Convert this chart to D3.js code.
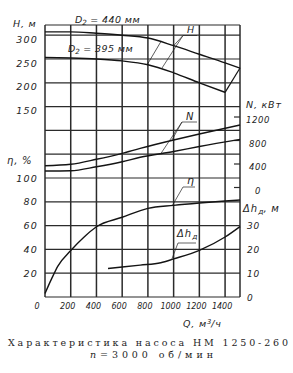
<!DOCTYPE html>
<html>
<head>
<meta charset="utf-8">
<script src="https://cdn.jsdelivr.net/npm/d3@7"></script>
<style>
body { margin: 0; background: #fff; }
svg { display: block; }
.lbl { font-family: "DejaVu Sans", sans-serif; font-style: italic; fill: #1e1e1e; }
.cap { font-family: "DejaVu Serif", "Liberation Serif", serif; fill: #1e1e1e; }
</style>
</head>
<body>
<script>
// ticks
var qTicks = [0, 200, 400, 600, 800, 1000, 1200, 1400];
var hTicks = [150, 200, 250, 300];
var etaTicks = [20, 40, 60, 80, 100];
var nTicks = [0, 400, 800, 1200];
var dhTicks = [0, 10, 20, 30];
var gridRows = [0, 20, 40, 60, 80, 100, 120, 140, 160, 180, 200, 220]; // on the eta scale

// head curves, two impeller diameters
var qH440 = [0, 200, 400, 600, 800, 1000, 1200, 1400, 1516];
var h440 = [307, 307, 304, 300, 294, 278, 260, 242, 231];
var qH395 = [0, 200, 400, 600, 800, 1000, 1200, 1400];
var h395 = [253, 252, 250, 246, 238, 221, 200, 180];

// power, kW
var qN = [0, 200, 400, 600, 740, 1000, 1200, 1516];
var n440 = [371, 395, 480, 582, 667, 809, 911, 1064];
var n395 = [281, 286, 354, 439, 514, 613, 698, 820];

// efficiency, %
var qEta = [0, 50, 100, 200, 300, 400, 600, 800, 1000, 1200, 1400, 1516];
var eta = [3, 15, 26, 39, 50, 59, 67, 74.5, 77, 79, 80.7, 81.5];

// NPSH, m
var qDh = [490, 600, 740, 900, 1000, 1200, 1400, 1516];
var dh = [12, 12.6, 13.4, 14.4, 16, 19.6, 25.2, 29.6];

// working zone edges: [Q on D2=395, Q on D2=440]
var zoneLeft = [795, 900];
var zoneRight = [1400, 1516];

var width = 293, height = 373;
var mLeft = 45, mRight = 240, mTop = 25, mBottom = 297;

var svg = d3.select("body").append("svg")
    .attr("width", width)
    .attr("height", height);

var x = d3.scaleLinear().domain([0, 1516]).range([mLeft, mRight]);
var yEta = d3.scaleLinear().domain([0, 100]).range([mBottom, 178]);
var yH = d3.scaleLinear().domain([150, 300]).range([yEta(160), yEta(220)]);
var yN = d3.scaleLinear().domain([0, 1200]).range([187.5, 117]);
var yDh = d3.scaleLinear().domain([0, 30]).range([mBottom, yEta(60)]);

// piecewise-linear lookup along a curve
function at(qs, vs, q) {
    return d3.scaleLinear().domain(qs).range(vs)(q);
}

// grid
var gridColor = "#2b2b2b";
var gridWidth = 1.2;

svg.selectAll(".vline").data(qTicks.concat([1516])).enter().append("line")
    .attr("class", "vline")
    .attr("x1", d => x(d)).attr("x2", d => x(d))
    .attr("y1", mTop).attr("y2", mBottom)
    .attr("stroke", gridColor).attr("stroke-width", 1.5);

svg.selectAll(".hline").data(gridRows).enter().append("line")
    .attr("class", "hline")
    .attr("x1", mLeft).attr("x2", mRight)
    .attr("y1", d => yEta(d)).attr("y2", d => yEta(d))
    .attr("stroke", gridColor).attr("stroke-width", gridWidth);

svg.append("line")
    .attr("x1", mLeft).attr("x2", mRight)
    .attr("y1", mTop).attr("y2", mTop)
    .attr("stroke", gridColor).attr("stroke-width", gridWidth);

// N ticks on right edge
svg.selectAll(".ntick").data(nTicks).enter().append("line")
    .attr("class", "ntick")
    .attr("x1", mRight - 6).attr("x2", mRight)
    .attr("y1", d => yN(d)).attr("y2", d => yN(d))
    .attr("stroke", gridColor).attr("stroke-width", gridWidth);

// curves
var curveStyle = { stroke: "#141414", width: 1.4 };
function drawCurve(qs, vs, yScale) {
    var line = d3.line()
        .x((d, i) => x(qs[i]))
        .y(d => yScale(d))
        .curve(d3.curveMonotoneX);
    svg.append("path")
        .datum(vs)
        .attr("d", line)
        .attr("fill", "none")
        .attr("stroke", curveStyle.stroke)
        .attr("stroke-width", curveStyle.width);
}

drawCurve(qH440, h440, yH);
drawCurve(qH395, h395, yH);
drawCurve(qN, n440, yN);
drawCurve(qN, n395, yN);
drawCurve(qEta, eta, yEta);
drawCurve(qDh, dh, yDh);

// working zone edges
[zoneLeft, zoneRight].forEach(function(z) {
    svg.append("line")
        .attr("x1", x(z[0])).attr("y1", yH(at(qH395, h395, z[0])))
        .attr("x2", x(z[1])).attr("y2", yH(at(qH440, h440, z[1])))
        .attr("stroke", "#141414")
        .attr("stroke-width", z === zoneLeft ? 0.7 : 1.2);
});

// leaders
function leader(x0, y0, q, qs, vs, yScale) {
    svg.append("line")
        .attr("x1", x0).attr("y1", y0)
        .attr("x2", x(q)).attr("y2", yScale(at(qs, vs, q)))
        .attr("stroke", "#222").attr("stroke-width", 0.7);
}
function underline(x0, x1, y0) {
    svg.append("line")
        .attr("x1", x0).attr("y1", y0).attr("x2", x1).attr("y2", y0)
        .attr("stroke", "#222").attr("stroke-width", 0.7);
}

underline(183, 197, 35.5);
leader(183, 35.5, 1000, qH440, h440, yH);
leader(183, 35.5, 905, qH395, h395, yH);

underline(182, 197, 122);
leader(182, 122, 985, qN, n440, yN);
leader(182, 122, 900, qN, n395, yN);

underline(183, 195, 187);
leader(183, 187, 990, qEta, eta, yEta);

underline(178, 196, 243);
leader(178, 243, 985, qDh, dh, yDh);

// tick labels
svg.selectAll(".hlab").data(hTicks).enter().append("text")
    .attr("class", "lbl")
    .attr("x", 38).attr("y", d => yH(d) + 7.5)
    .attr("text-anchor", "end")
    .style("font-size", "9.5px").style("letter-spacing", "1.2px")
    .text(d => d);

svg.selectAll(".elab").data(etaTicks).enter().append("text")
    .attr("class", "lbl")
    .attr("x", 38).attr("y", d => yEta(d) + 3.5)
    .attr("text-anchor", "end")
    .style("font-size", "9.5px").style("letter-spacing", "1.2px")
    .text(d => d);

svg.selectAll(".qlab").data(qTicks).enter().append("text")
    .attr("class", "lbl")
    .attr("x", d => d === 0 ? 37 : x(d) - 3).attr("y", 309)
    .attr("text-anchor", "middle")
    .style("font-size", "8px")
    .text(d => d);

svg.selectAll(".nlab").data(nTicks).enter().append("text")
    .attr("class", "lbl")
    .attr("x", 258).attr("y", d => yN(d) + 6)
    .attr("text-anchor", "middle")
    .style("font-size", "8.5px").style("letter-spacing", "0.6px")
    .text(d => d);

svg.selectAll(".dlab").data(dhTicks).enter().append("text")
    .attr("class", "lbl")
    .attr("x", 247).attr("y", d => yDh(d) + 3.5)
    .style("font-size", "9px").style("letter-spacing", "0.8px")
    .text(d => d);

// axis titles and curve names
function label(tx, ty, size, parts) {
    var t = svg.append("text").attr("class", "lbl")
        .attr("x", tx).attr("y", ty)
        .style("font-size", size + "px");
    parts.forEach(function(p) {
        var s = t.append("tspan").text(p.t);
        if (p.sub) s.attr("dy", 2).style("font-size", (size * 0.75) + "px");
        if (p.sup) s.attr("dy", -3.5).style("font-size", (size * 0.7) + "px");
        if (p.back) s.attr("dy", p.back);
        if (p.ls) s.style("letter-spacing", p.ls);
    });
    return t;
}

label(13, 26.5, 9.5, [{ t: "H, м", ls: "0.8px" }]);
label(75, 23, 9.5, [{ t: "D" }, { t: "2", sub: true }, { t: " = 440 мм", back: -2, ls: "0.4px" }]);
label(68, 52, 9.5, [{ t: "D" }, { t: "2", sub: true }, { t: " = 395 мм", back: -2, ls: "0.4px" }]);
label(187, 32.5, 9.5, [{ t: "H" }]);
label(186, 119.5, 10, [{ t: "N" }]);
label(187, 184, 11, [{ t: "η" }]);
label(177, 237, 10, [{ t: "Δh", ls: "1px" }, { t: "д", sub: true }]);
label(7, 163.5, 10, [{ t: "η, %", ls: "0.8px" }]);
label(246, 107.5, 9.5, [{ t: "N, кВт", ls: "0.8px" }]);
label(243, 211.5, 10, [{ t: "Δh", ls: "1px" }, { t: "д", sub: true }, { t: ", м", back: -2, ls: "0.8px" }]);
label(183, 327, 9.5, [{ t: "Q, м", ls: "0.8px" }, { t: "3", sup: true }, { t: "/ч", back: 3.5, ls: "0.8px" }]);

// caption
svg.append("text").attr("class", "cap")
    .attr("x", 8).attr("y", 346)
    .attr("textLength", 280).attr("lengthAdjust", "spacing")
    .style("font-size", "9.5px")
    .text("Характеристика насоса НМ 1250-260");

var cap2 = svg.append("text").attr("class", "cap")
    .attr("x", 90).attr("y", 357.5)
    .attr("textLength", 123).attr("lengthAdjust", "spacing")
    .style("font-size", "9.5px");
cap2.append("tspan").style("font-style", "italic").text("n");
cap2.append("tspan").text("=3000 об/мин");
</script>
</body>
</html>
